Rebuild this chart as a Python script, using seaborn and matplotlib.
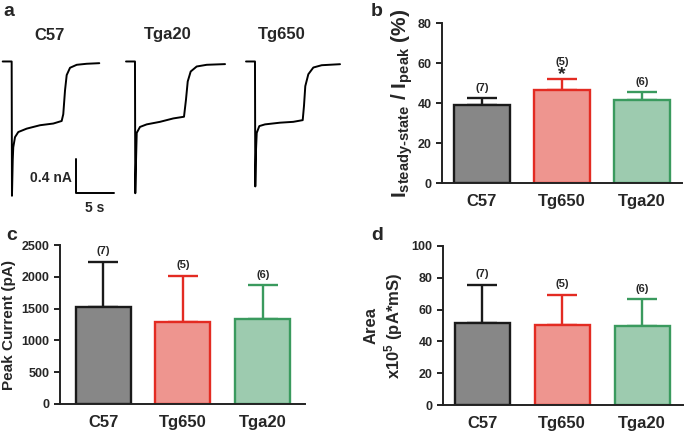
import numpy as np
import pandas as pd
import matplotlib.pyplot as plt
import seaborn as sns

# ── Data ──────────────────────────────────────
groups = ["C57", "Tg650", "Tga20"]
n_cells = ["(7)", "(5)", "(6)"]

ratio_mean = [39.0, 46.5, 41.5]
ratio_err = [3.3, 5.4, 3.9]

peak_mean = [1522, 1287, 1344]
peak_err = [716, 732, 523]

area_mean = [51.4, 50.3, 49.7]
area_err = [24.1, 19.1, 16.8]

# example current traces (time in s, current in nA)
c57_t = [0, 1.18, 1.22, 1.32, 1.39, 1.62, 2.05, 3.16, 4.91, 6.66, 7.76, 7.97, 8.20, 8.42, 8.86, 9.74, 11.05, 12.71]
c57_i = [0, 0, -1.58, -1.16, -1.01, -0.89, -0.83, -0.79, -0.75, -0.73, -0.70, -0.62, -0.34, -0.16, -0.074, -0.039, -0.027, -0.020]

tga20_t = [0, 1.18, 1.22, 1.32, 1.41, 1.84, 2.72, 4.47, 6.22, 7.63, 7.89, 8.12, 8.51, 9.30, 10.62, 13.03]
tga20_i = [0, 0, -1.55, -1.16, -0.84, -0.77, -0.74, -0.71, -0.67, -0.65, -0.45, -0.235, -0.118, -0.059, -0.039, -0.031]

tg650_t = [0, 1.18, 1.22, 1.32, 1.41, 1.75, 2.50, 4.47, 6.22, 7.46, 7.63, 7.80, 8.20, 8.86, 9.96, 12.37]
tg650_i = [0, 0, -1.47, -1.03, -0.84, -0.76, -0.74, -0.72, -0.71, -0.69, -0.52, -0.29, -0.15, -0.071, -0.044, -0.032]

# ── Style ─────────────────────────────────────
sns.set_theme(style="ticks")
plt.rcParams['font.family'] = ['Liberation Sans', 'DejaVu Sans']
plt.rcParams['font.weight'] = 'bold'
plt.rcParams['mathtext.fontset'] = 'custom'
plt.rcParams['mathtext.rm'] = 'Liberation Sans:bold'
plt.rcParams['mathtext.bf'] = 'Liberation Sans:bold'
plt.rcParams['mathtext.it'] = 'Liberation Sans:bold'

FILLS = ["#878787", "#EE958F", "#9DCBAF"]
EDGES = ["#1a1a1a", "#E32B22", "#3A9A5E"]

W, H = 685, 434
fig = plt.figure(figsize=(W / 100, H / 100), dpi=100)


def px_axes(left, top, right, bottom):
    return fig.add_axes([left / W, 1 - bottom / H, (right - left) / W, (bottom - top) / H])


def bar_panel(ax, means, errs, ymax, step, xlim, ylabel, label_pad=4, ylabel_size=11):
    df = pd.DataFrame({"group": groups, "value": means})
    sns.barplot(data=df, x="group", y="value", hue="group", palette=FILLS,
                order=groups, errorbar=None, width=0.69, legend=False, ax=ax,
                saturation=1, zorder=2)
    for patch, ec in zip(ax.patches, EDGES):
        patch.set_edgecolor(ec)
        patch.set_linewidth(1.7)
    for i, (m, e) in enumerate(zip(means, errs)):
        ax.errorbar(i, m, yerr=[[0], [e]], fmt='none', ecolor=EDGES[i],
                    elinewidth=1.7, capsize=11, capthick=1.7, zorder=1)
        ax.text(i, m + e + ymax * 0.035, n_cells[i], ha='center', va='bottom',
                fontsize=8, fontweight='bold')
    ax.set_xlim(*xlim)
    ax.set_ylim(0, ymax)
    ax.set_yticks(np.arange(0, ymax + 1, step))
    ax.set_xticks(range(len(groups)))
    ax.set_xticklabels(groups, fontsize=12, fontweight='bold')
    ax.set_xticks([1], minor=True)
    ax.tick_params(axis='x', which='major', length=0, pad=8)
    ax.tick_params(axis='x', which='minor', length=4, width=1.4, color='#222222')
    ax.tick_params(axis='y', length=4, width=1.4, labelsize=9, color='#222222')
    for lab in ax.get_yticklabels():
        lab.set_fontweight('bold')
    ax.set_xlabel("")
    ax.set_ylabel(ylabel, fontsize=ylabel_size, fontweight='bold', labelpad=label_pad)
    sns.despine(ax=ax)
    for sp in ("left", "bottom"):
        ax.spines[sp].set_linewidth(1.4)
        ax.spines[sp].set_color('#222222')


# ── Panel a: traces ───────────────────────────
ax_a = px_axes(0, 50, 342, 215)
offsets = [0.355, 16.58, 32.37]
for (t, i), t0 in zip([(c57_t, c57_i), (tga20_t, tga20_i), (tg650_t, tg650_i)], offsets):
    sns.lineplot(x=np.array(t) + t0, y=i, sort=False, estimator=None,
                 color='black', linewidth=1.4, ax=ax_a)
ax_a.set_xlim(0, 45)
ax_a.set_ylim(-1.806, 0.135)
ax_a.axis('off')
# scale bar 5 s / 0.4 nA
ax_a.plot([10, 10, 15], [-1.15, -1.55, -1.55], color='black', linewidth=1.4)
ax_a.text(9.4, -1.37, "0.4 nA", ha='right', va='center', fontsize=10, fontweight='bold')
ax_a.text(12.5, -1.64, "5 s", ha='center', va='top', fontsize=10, fontweight='bold')
for name, x in zip(["C57", "Tga20", "Tg650"], [50, 168, 282]):
    fig.text(x / W, 1 - 35 / H, name, ha='center', va='center', fontsize=12, fontweight='bold')

# ── Panel b ───────────────────────────────────
ax_b = px_axes(442, 23, 682, 183)
bar_panel(ax_b, ratio_mean, ratio_err, 80, 20, (-0.5, 2.5),
          r"$\mathregular{I_{steady‐state}\ /\ I_{peak}}$ (%)", label_pad=2, ylabel_size=15)
ax_b.text(1, 54.0, "*", ha='center', va='center', fontsize=14, fontweight='bold')
# (5) sits above the star
ax_b.texts[1].set_y(60.5)
ax_b.texts[1].set_va('center')

# ── Panel c ───────────────────────────────────
ax_c = px_axes(60, 245, 305, 404)
bar_panel(ax_c, peak_mean, peak_err, 2500, 500, (-0.54, 2.53), "Peak Current (pA)")

# ── Panel d ───────────────────────────────────
ax_d = px_axes(443, 246, 683, 405)
bar_panel(ax_d, area_mean, area_err, 100, 20, (-0.49, 2.51),
          "Area\n" + r"x10$^{5}$ (pA*mS)", label_pad=5, ylabel_size=12)

# panel letters
for letter, x, y in [("a", 9, 12), ("b", 377, 12), ("c", 12, 236), ("d", 377, 236)]:
    fig.text(x / W, 1 - y / H, letter, ha='center', va='center', fontsize=14, fontweight='bold')

fig.savefig("out.png", dpi=100)
